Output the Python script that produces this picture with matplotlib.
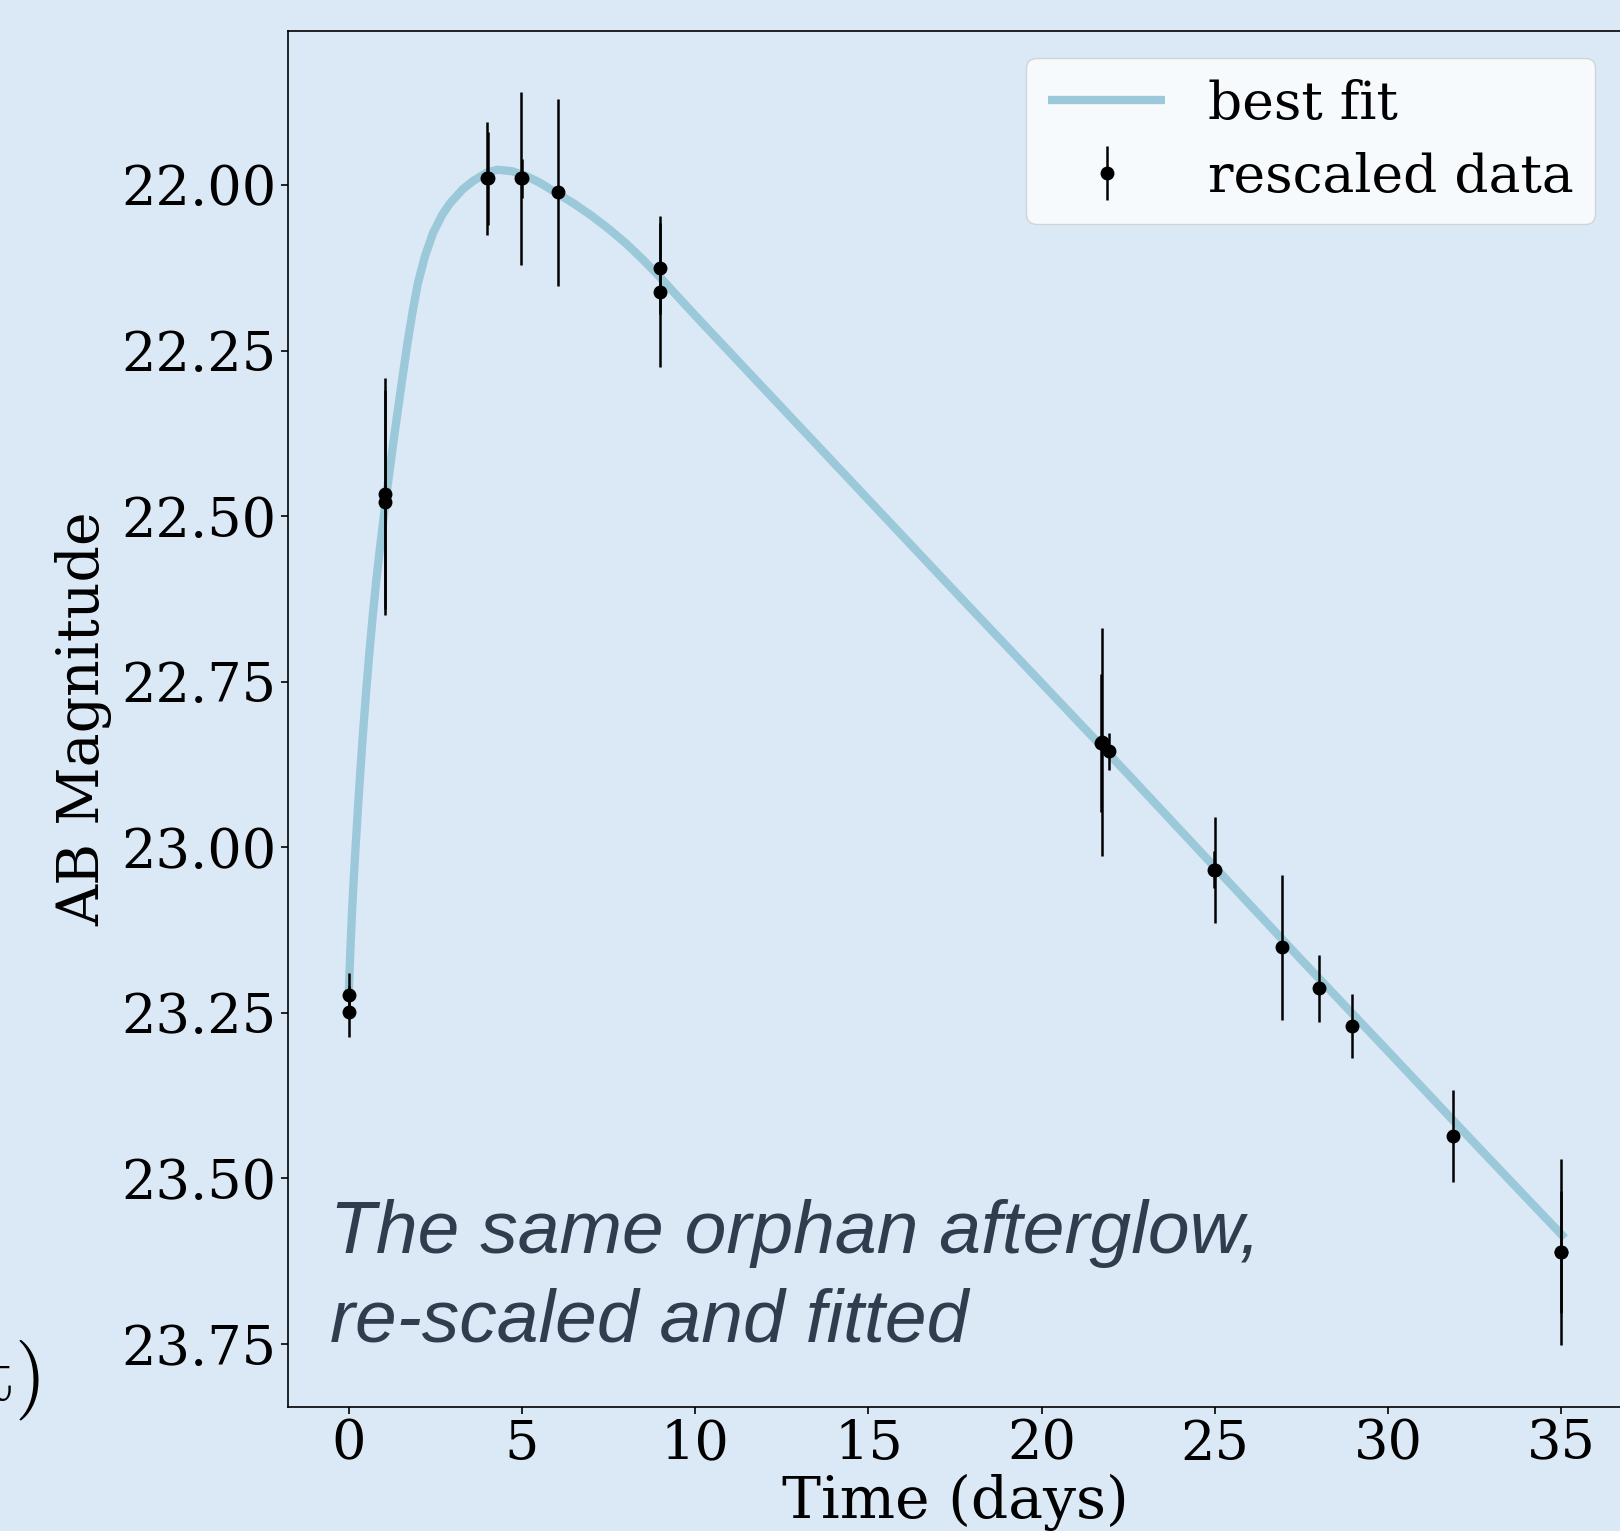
import matplotlib
matplotlib.use("Agg")
import matplotlib.pyplot as plt

plt.rcParams['font.family'] = ['DejaVu Serif']
plt.rcParams['mathtext.fontset'] = 'cm'

# ---- data ----
fit_t = [0.0, 0.05, 0.1, 0.15, 0.2, 0.3, 0.4, 0.5, 0.6, 0.7, 0.8, 0.9, 1.09,
         1.3, 1.5, 1.7, 1.85, 2.0, 2.2, 2.44, 2.7, 2.92, 3.3, 3.59, 4.0, 4.3,
         4.7, 5.1, 5.5, 6.0, 6.5, 7.0, 7.5, 8.0, 8.5, 9.0, 10.0, 12.5, 15.0,
         17.5, 20.0, 22.5, 25.0, 27.5, 30.0, 32.5, 35.1]
fit_mag = [23.225, 23.155, 23.095, 23.045, 23.0, 22.915, 22.838, 22.768, 22.705,
           22.648, 22.596, 22.55, 22.468, 22.385, 22.31, 22.238, 22.19, 22.148,
           22.108, 22.072, 22.045, 22.028, 22.006, 21.994, 21.981, 21.977,
           21.979, 21.986, 21.996, 22.012, 22.028, 22.046, 22.066, 22.088,
           22.113, 22.14, 22.197, 22.336, 22.475, 22.614, 22.752, 22.89, 23.03,
           23.17, 23.308, 23.447, 23.59]

obs_t = [0.0, 0.0, 1.05, 1.06, 3.98, 4.03, 4.97, 5.0, 6.03, 8.98, 9.0,
         21.73, 21.72, 21.94, 24.99, 24.97, 26.93, 28.0, 28.95, 31.88, 34.98, 35.0]
obs_mag = [23.223, 23.248, 22.466, 22.479, 21.99, 21.99, 21.99, 21.99, 22.011,
           22.126, 22.161, 22.841, 22.842, 22.855, 23.034, 23.034, 23.151, 23.213,
           23.27, 23.436, 23.611, 23.611]
obs_err = [0.034, 0.039, 0.174, 0.170, 0.085, 0.070, 0.131, 0.029, 0.141,
           0.069, 0.114, 0.172, 0.104, 0.028, 0.080, 0.028, 0.109, 0.051,
           0.048, 0.069, 0.141, 0.092]

xticks = [0, 5, 10, 15, 20, 25, 30, 35]
yticks = [22.00, 22.25, 22.50, 22.75, 23.00, 23.25, 23.50, 23.75]

bg = '#dbe9f6'
fig = plt.figure(figsize=(16.2, 15.31), dpi=100, facecolor=bg)
ax = fig.add_axes([288/1620, 1 - 1407/1531, (1622 - 288)/1620, (1407 - 31)/1531])
ax.set_facecolor(bg)

ax.plot(fit_t, fit_mag, color='#9bc9d9', lw=6.0, solid_capstyle='butt',
        solid_joinstyle='round', label='best fit', zorder=1)
ax.errorbar(obs_t, obs_mag, yerr=obs_err, fmt='o', color='black', ms=9,
            elinewidth=1.8, capsize=0, label='rescaled data', zorder=2)

ax.set_xlim(-1.75, 36.75)
ax.set_ylim(23.845, 21.7675)
ax.set_xticks(xticks)
ax.set_yticks(yticks)
ax.set_yticklabels([f'{v:.2f}' for v in yticks])
ax.tick_params(labelsize=39, length=5, width=1.2)
for s in ax.spines.values():
    s.set_linewidth(1.2)

ax.set_xlabel('Time (days)', fontsize=42, labelpad=2)
ax.set_ylabel('AB Magnitude', fontsize=41, labelpad=6)

leg = ax.legend(loc='upper right', fontsize=38.5, framealpha=0.8,
                handlelength=2.2, labelspacing=0.4)

fig.text(330/1620, 1 - 1253/1531, 'The same orphan afterglow,',
         family='Liberation Sans', style='italic', fontsize=54, color='#2f3d4f',
         va='baseline', ha='left')
fig.text(330/1620, 1 - 1341/1531, 're-scaled and fitted',
         family='Liberation Sans', style='italic', fontsize=54, color='#2f3d4f',
         va='baseline', ha='left')

fig.text(40/1620, 1 - 1400/1531, r'$\mathrm{t)}$', fontsize=58, ha='right',
         va='baseline')

fig.savefig('out.png', dpi=100, facecolor=bg)
